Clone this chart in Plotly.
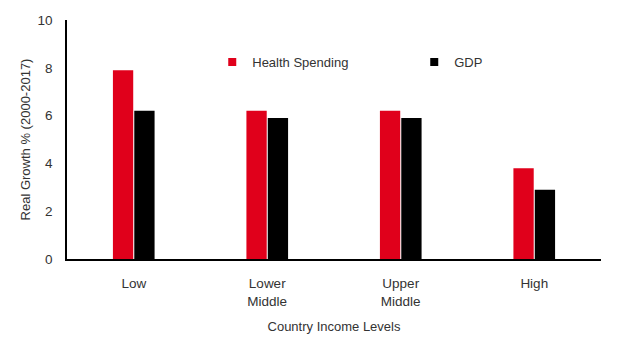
import plotly.graph_objects as go

categories = ["Low", "Lower<br>Middle", "Upper<br>Middle", "High"]
series_names = ["Health Spending", "GDP"]
health_spending = [7.9, 6.2, 6.2, 3.8]
gdp = [6.2, 5.9, 5.9, 2.9]
y_ticks = [0, 2, 4, 6, 8, 10]
colors = ["#E0001B", "#000000"]

txt = "#333333"
tick_font = dict(family="Liberation Sans, Arial, sans-serif", size=13.5, color=txt)
title_font = dict(family="Liberation Sans, Arial, sans-serif", size=13, color=txt)

fig = go.Figure()
for name, vals, col in zip(series_names, [health_spending, gdp], colors):
    fig.add_trace(go.Bar(x=categories, y=vals, name=name, showlegend=False,
                         legendgroup=name, marker=dict(color=col, line=dict(width=0))))
# legend entries with small square swatches
for name, col in zip(series_names, colors):
    fig.add_trace(go.Scatter(x=[None], y=[None], mode="markers", name=name,
                             legendgroup=name,
                             marker=dict(symbol="square", size=8, color=col)))

fig.update_layout(
    width=629, height=339,
    margin=dict(l=67, r=28, t=20, b=80, autoexpand=False),
    paper_bgcolor="white", plot_bgcolor="white",
    font=title_font,
    barmode="group", bargap=0.68, bargroupgap=0.05,
    showlegend=True,
    legend=dict(orientation="h", x=0.272, y=0.824, xanchor="left", yanchor="middle",
                bgcolor="rgba(0,0,0,0)", entrywidth=157, entrywidthmode="pixels",
                font=title_font, traceorder="normal"),
    xaxis=dict(showline=True, linecolor="black", linewidth=1.5, ticks="",
               showgrid=False, ticklabelstandoff=11, automargin=False,
               title=dict(text="Country Income Levels", standoff=14, font=title_font),
               tickfont=tick_font),
    yaxis=dict(showline=True, linecolor="black", linewidth=1.5, ticks="",
               showgrid=False, zeroline=False, range=[0, 10], tickvals=y_ticks,
               ticklabelstandoff=10, automargin=False,
               title=dict(text="Real Growth % (2000-2017)", standoff=4, font=title_font),
               tickfont=tick_font),
)
fig.write_html("out.html")
